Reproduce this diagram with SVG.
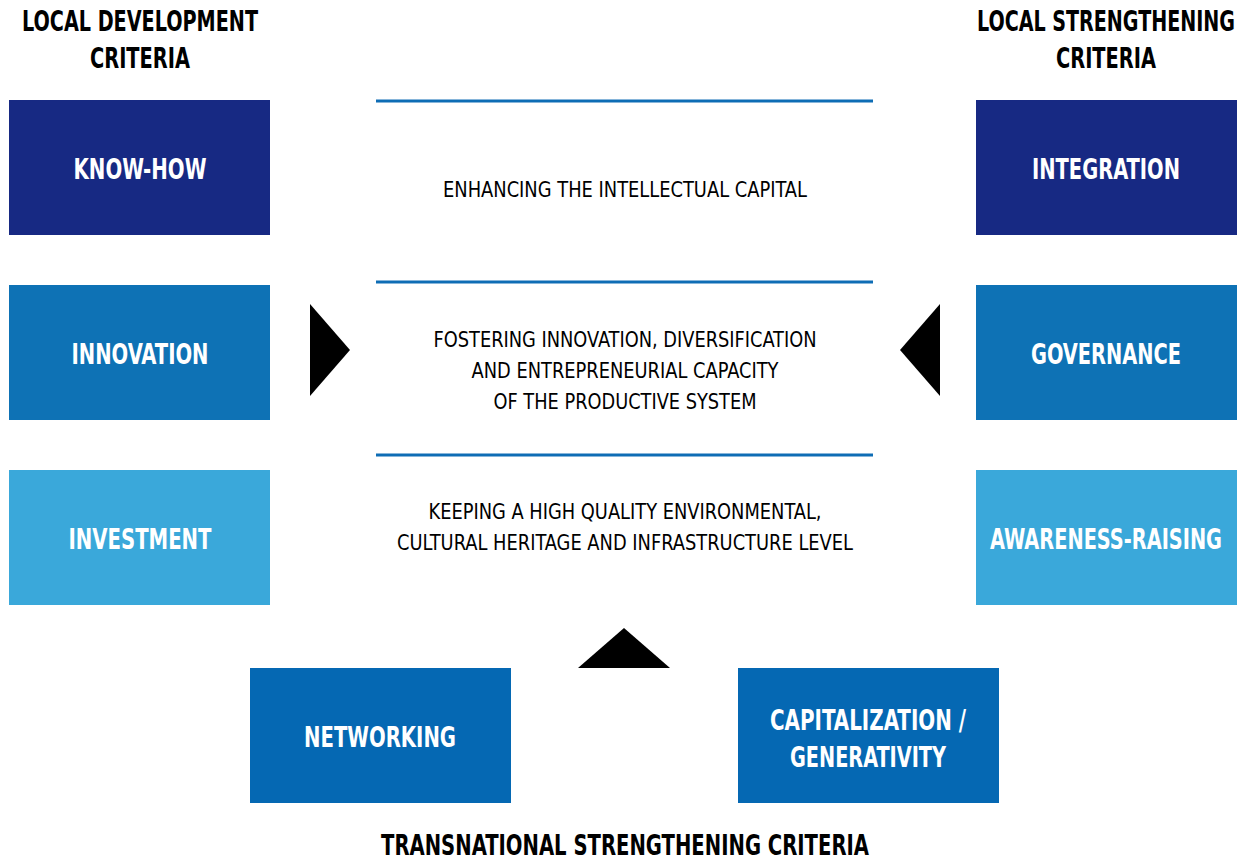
<svg xmlns="http://www.w3.org/2000/svg" width="1248" height="861" viewBox="0 0 1248 861">
<style>
.hd{font-family:"Liberation Sans Narrow","DejaVu Sans Condensed","Liberation Sans",sans-serif;font-weight:bold;font-size:28px;fill:#000;text-anchor:middle}
.lb{font-family:"Liberation Sans Narrow","DejaVu Sans Condensed","Liberation Sans",sans-serif;font-weight:bold;font-size:28px;fill:#fff;text-anchor:middle}
.md{font-family:"Liberation Sans Narrow","DejaVu Sans Condensed","Liberation Sans",sans-serif;font-size:22px;fill:#000;text-anchor:middle}
.c1{fill:#172983}.c2{fill:#0e72b5}.c3{fill:#3aa8da}.c4{fill:#0568b3}
.ln{stroke:#0e6db5;stroke-width:3}
</style>
<rect width="1248" height="861" fill="#fff"/>
<g id="headers">
<text class="hd" x="140" y="31" textLength="236" lengthAdjust="spacingAndGlyphs">LOCAL DEVELOPMENT</text>
<text class="hd" x="140" y="68" textLength="100" lengthAdjust="spacingAndGlyphs">CRITERIA</text>
<text class="hd" x="1106" y="31" textLength="258" lengthAdjust="spacingAndGlyphs">LOCAL STRENGTHENING</text>
<text class="hd" x="1106" y="68" textLength="100" lengthAdjust="spacingAndGlyphs">CRITERIA</text>
<text class="hd" x="625" y="855" textLength="488" lengthAdjust="spacingAndGlyphs">TRANSNATIONAL STRENGTHENING CRITERIA</text>
</g>
<g id="know-how"><rect class="c1" x="9" y="100" width="261" height="135"/><text class="lb" x="140" y="179" textLength="133" lengthAdjust="spacingAndGlyphs">KNOW-HOW</text></g>
<g id="innovation"><rect class="c2" x="9" y="285" width="261" height="135"/><text class="lb" x="140" y="364" textLength="137" lengthAdjust="spacingAndGlyphs">INNOVATION</text></g>
<g id="investment"><rect class="c3" x="9" y="470" width="261" height="135"/><text class="lb" x="140" y="549" textLength="143" lengthAdjust="spacingAndGlyphs">INVESTMENT</text></g>
<g id="integration"><rect class="c1" x="976" y="100" width="261" height="135"/><text class="lb" x="1106" y="179" textLength="148" lengthAdjust="spacingAndGlyphs">INTEGRATION</text></g>
<g id="governance"><rect class="c2" x="976" y="285" width="261" height="135"/><text class="lb" x="1106" y="364" textLength="150" lengthAdjust="spacingAndGlyphs">GOVERNANCE</text></g>
<g id="awareness-raising"><rect class="c3" x="976" y="470" width="261" height="135"/><text class="lb" x="1106" y="549" textLength="232" lengthAdjust="spacingAndGlyphs">AWARENESS-RAISING</text></g>
<g id="networking"><rect class="c4" x="250" y="668" width="261" height="135"/><text class="lb" x="380" y="747" textLength="152" lengthAdjust="spacingAndGlyphs">NETWORKING</text></g>
<g id="capitalization"><rect class="c4" x="738" y="668" width="261" height="135"/><text class="lb" x="868" y="730" textLength="196" lengthAdjust="spacingAndGlyphs">CAPITALIZATION /</text><text class="lb" x="868" y="767" textLength="156" lengthAdjust="spacingAndGlyphs">GENERATIVITY</text></g>
<g id="center">
<line class="ln" x1="376" y1="101" x2="873" y2="101"/>
<line class="ln" x1="376" y1="282" x2="873" y2="282"/>
<line class="ln" x1="376" y1="455" x2="873" y2="455"/>
<text class="md" x="625" y="197" textLength="364" lengthAdjust="spacingAndGlyphs">ENHANCING THE INTELLECTUAL CAPITAL</text>
<text class="md" x="625" y="347" textLength="383" lengthAdjust="spacingAndGlyphs">FOSTERING INNOVATION, DIVERSIFICATION</text>
<text class="md" x="625" y="378" textLength="307" lengthAdjust="spacingAndGlyphs">AND ENTREPRENEURIAL CAPACITY</text>
<text class="md" x="625" y="409" textLength="263" lengthAdjust="spacingAndGlyphs">OF THE PRODUCTIVE SYSTEM</text>
<text class="md" x="625" y="519" textLength="393" lengthAdjust="spacingAndGlyphs">KEEPING A HIGH QUALITY ENVIRONMENTAL,</text>
<text class="md" x="625" y="550" textLength="456" lengthAdjust="spacingAndGlyphs">CULTURAL HERITAGE AND INFRASTRUCTURE LEVEL</text>
</g>
<g id="connectors">
<polygon points="310,304 350,350 310,396" fill="#000"/>
<polygon points="940,304 900,350 940,396" fill="#000"/>
<polygon points="578,668 624,628 670,668" fill="#000"/>
</g>
</svg>
